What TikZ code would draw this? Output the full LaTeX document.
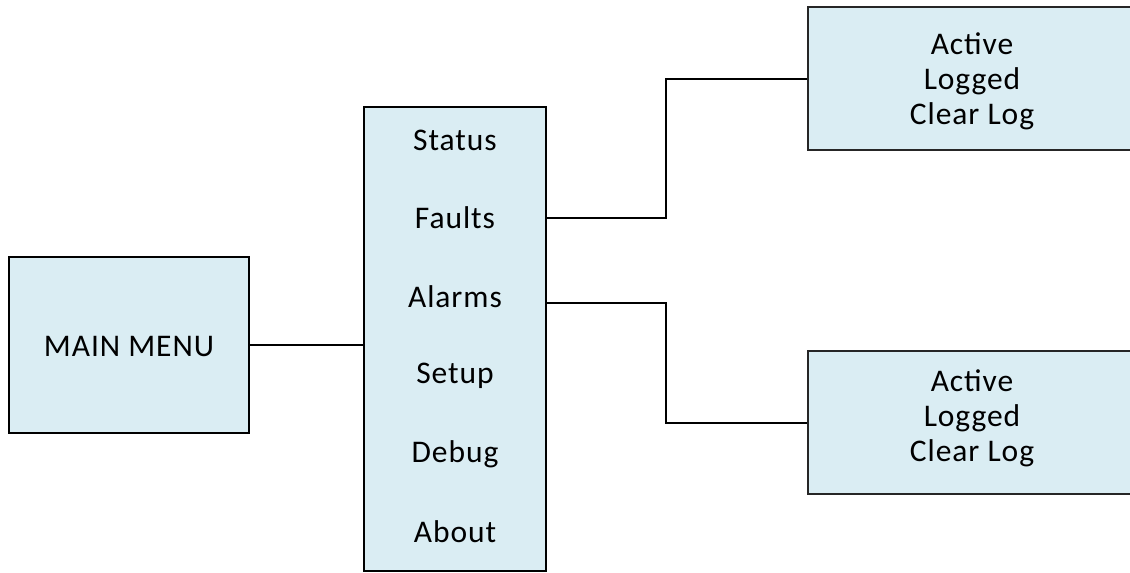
\documentclass[tikz,border=0pt]{standalone}
\usepackage{fontspec}
\setmainfont{Carlito}[LetterSpace=3]
\definecolor{boxfill}{HTML}{DAEDF3}
\definecolor{boxedge}{HTML}{262626}
\tikzset{
  menubox/.style={draw=black, line width=2pt, fill=boxfill, rectangle, inner sep=0pt},
  subbox/.style={draw=boxedge, line width=1.6pt, fill=boxfill, rectangle, inner sep=0pt},
  itemtext/.style={inner sep=0pt, align=center, font=\fontsize{31.5}{35}\selectfont},
  link/.style={draw=black, line width=2pt}
}
\begin{document}
\begin{tikzpicture}[x=1pt,y=-1pt]
\useasboundingbox (0,0) rectangle (1130,573);
\clip (0,0) rectangle (1130,573);
% boxes
\node[menubox, minimum width=240, minimum height=176] (main) at (129,345) {};
\node[itemtext] (maint) at (129,347) {MAIN MENU};
\node[menubox, minimum width=182, minimum height=464] (mid) at (455,339) {};
\node[subbox, minimum width=350, minimum height=143, anchor=west] (top) at (807,78.5) {};
\node[subbox, minimum width=350, minimum height=143, anchor=west] (bot) at (807,422.5) {};
\node[itemtext] (topt) at (972,81) {Active\\Logged\\Clear Log};
\node[itemtext] (bott) at (972,418) {Active\\Logged\\Clear Log};
% items
\node[itemtext] (status) at (455,140) {Status};
\node[itemtext] (faults) at (455,218) {Faults};
\node[itemtext] (alarms) at (455,297) {Alarms};
\node[itemtext] (setup)  at (455,376) {Setup};
\node[itemtext] (debug)  at (455,454) {Debug};
\node[itemtext] (about)  at (455,532) {About};
% junction x
\coordinate (jx) at (666,0);
\coordinate (alarmy) at (0,303);
% connectors
\draw[link] (main.east) -- (main.east -| mid.west);
\draw[link] (faults -| mid.east) -- (faults -| jx) |- (top.west);
\draw[link] (alarmy -| mid.east) -- (alarmy -| jx) |- (bot.west);
\end{tikzpicture}
\end{document}
